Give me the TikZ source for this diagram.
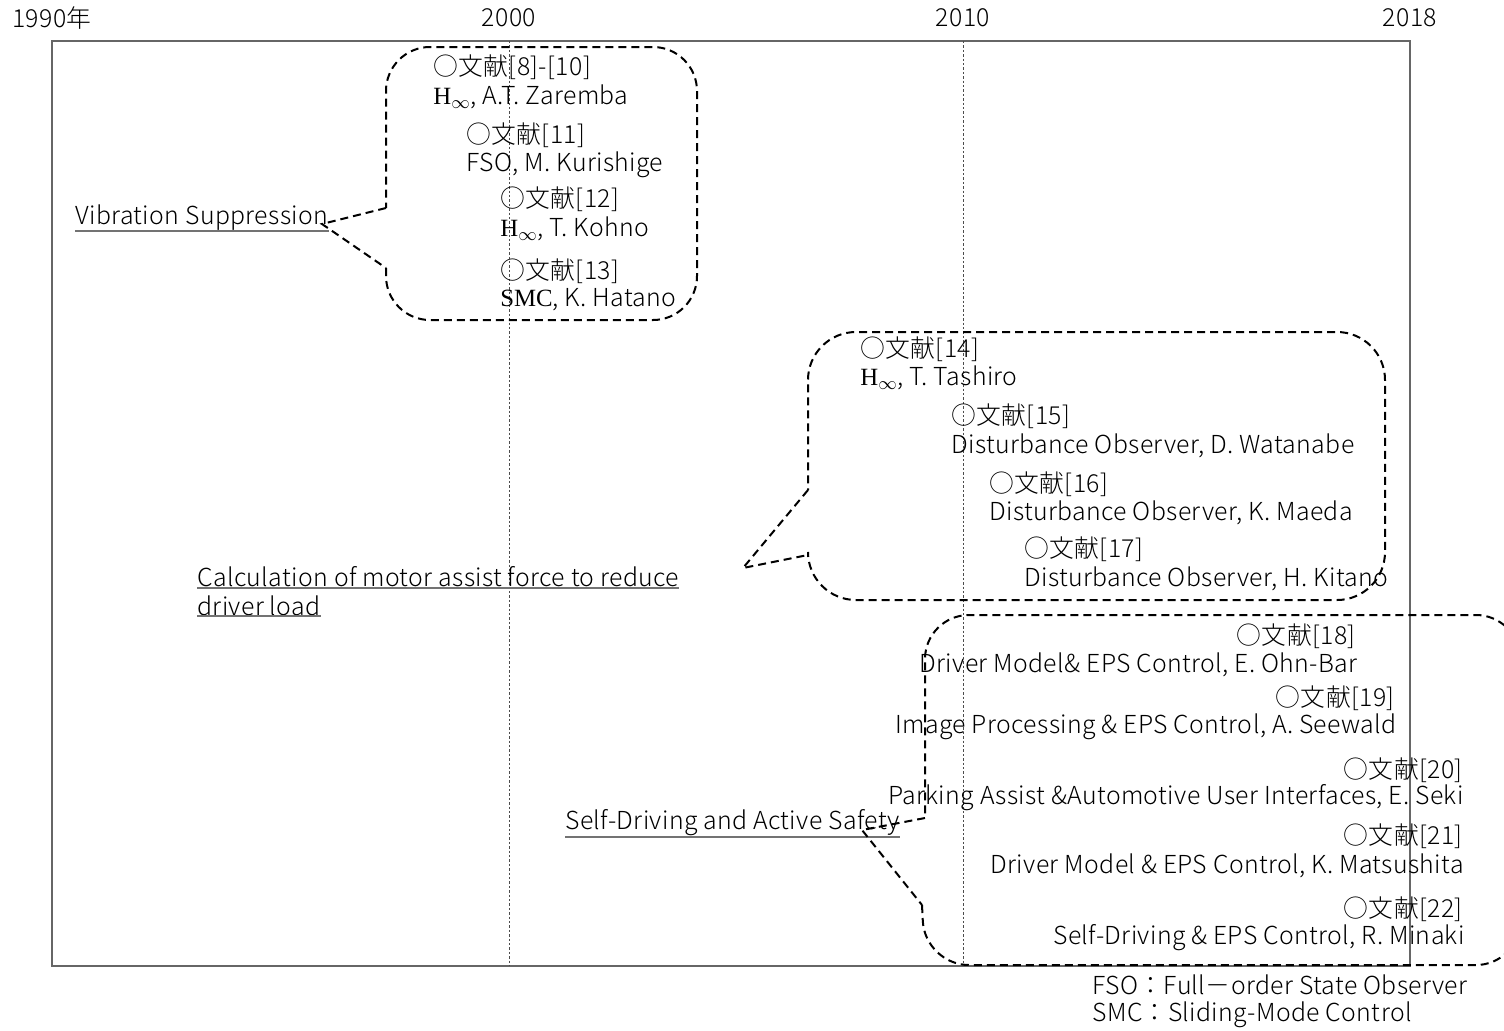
\documentclass[tikz,border=0pt]{standalone}
\usepackage{fontspec}
\setmainfont{Noto Sans CJK JP}[UprightFont={* Light}, LetterSpace=1.5]
\newfontfamily\serif{Liberation Serif}
\usetikzlibrary{calc, positioning}

\newcommand{\Hinf}{{\serif H}$_{\infty}$}

\begin{document}
\begin{tikzpicture}[x=0.5pt,y=-0.5pt,
    every node/.style={font=\fontsize{12.4}{14}\selectfont, inner sep=0pt},
    cite/.style={anchor=west},
    citer/.style={anchor=east},
    callout/.style={draw=black, line width=1pt, dash pattern=on 4pt off 2.5pt},
    frame/.style={draw=black!60, line width=0.8pt},
    yearline/.style={draw=black!70, line width=0.5pt, dash pattern=on 1.2pt off 1pt},
    uline/.style={draw=black!55, line width=1pt}]
\useasboundingbox (0,0) rectangle (1504,1030);

% time axis
\node (y1990) at (52,18) {1990年};
\node (y2000) at (509,18) {2000};
\node (y2010) at (963,18) {2010};
\node (y2018) at (1410,18) {2018};
\draw[frame] (52,41) rectangle (1410,966);
\draw[yearline] (509,41) -- (509,966);
\draw[yearline] (963,41) -- (963,966);

% vibration suppression
\node[cite] (vib) at (75,218) {Vibration Suppression};
\draw[uline] (vib.south west) -- (vib.south east);
\coordinate (vibtip) at (322,224);
\draw[callout, rounded corners=22pt] (386,268) -- (386,320) -- (697,320)
    -- (697,47) -- (386,47) -- (386,208);
\draw[callout] (386,208) -- (vibtip) -- (386,268);

\node[cite] (ref8)  at (433,67)  {○文献[8]-[10]};
\node[cite] (au8)   at (433,97)  {\Hinf, A.T. Zaremba};
\node[cite] (ref11) at (466,135) {○文献[11]};
\node[cite] (au11)  at (466,165) {FSO, M. Kurishige};
\node[cite] (ref12) at (500,199) {○文献[12]};
\node[cite] (au12)  at (500,229) {\Hinf, T. Kohno};
\node[cite] (ref13) at (500,271) {○文献[13]};
\node[cite] (au13)  at (500,300) {{\serif SMC}, K. Hatano};

% assist force
\node[cite] (calc1) at (197,577) {Calculation of motor assist force to reduce};
\node[cite] (calc2) at (197,606) {driver load};
\draw[uline] (calc1.south west) -- (calc1.south east);
\draw[uline] (calc2.south west) -- (calc2.south east);
\coordinate (calctip) at (743,568);
\draw[callout, rounded corners=24pt] (808,555) -- (808,600) -- (1385,600)
    -- (1385,332) -- (808,332) -- (808,490);
\draw[callout] (808,490) -- (calctip) -- (808,555);

\node[cite] (ref14) at (860,349)  {○文献[14]};
\node[cite] (au14)  at (860,378)  {\Hinf, T. Tashiro};
\node[cite] (ref15) at (951,416)  {○文献[15]};
\node[cite] (au15)  at (951,446)  {Disturbance Observer, D. Watanabe};
\node[cite] (ref16) at (989,484)  {○文献[16]};
\node[cite] (au16)  at (989,513)  {Disturbance Observer, K. Maeda};
\node[cite] (ref17) at (1024,549) {○文献[17]};
\node[cite] (au17)  at (1024,579) {Disturbance Observer, H. Kitano};

% self-driving
\node[cite] (self) at (565,823) {Self-Driving and Active Safety};
\draw[uline] (self.south west) -- (self.south east);
\coordinate (selftip) at (862,830);
\draw[callout, rounded corners=22pt] (922,905) -- (925,965) -- (1520,965)
    -- (1520,615) -- (925,615) -- (925,818);
\draw[callout] (925,818) -- (selftip) -- (922,905);

\node[citer] (ref18) at (1356,636) {○文献[18]};
\node[citer] (au18)  at (1358,665) {Driver Model\& EPS Control, E. Ohn-Bar};
\node[citer] (ref19) at (1395,698) {○文献[19]};
\node[citer] (au19)  at (1397,727) {Image Processing \& EPS Control, A. Seewald};
\node[citer] (ref20) at (1463,770) {○文献[20]};
\node[citer] (au20)  at (1464,798) {Parking Assist \&Automotive User Interfaces, E. Seki};
\node[citer] (ref21) at (1463,836) {○文献[21]};
\node[citer] (au21)  at (1464,866) {Driver Model \& EPS Control, K. Matsushita};
\node[citer] (ref22) at (1463,909) {○文献[22]};
\node[citer] (au22)  at (1465,938) {Self-Driving \& EPS Control, R. Minaki};

% abbreviations
\node[cite] (fso) at (1092,985)  {FSO：Full－order State Observer};
\node[cite] (smc) at (1092,1015) {SMC：Sliding-Mode Control};
\end{tikzpicture}
\end{document}
